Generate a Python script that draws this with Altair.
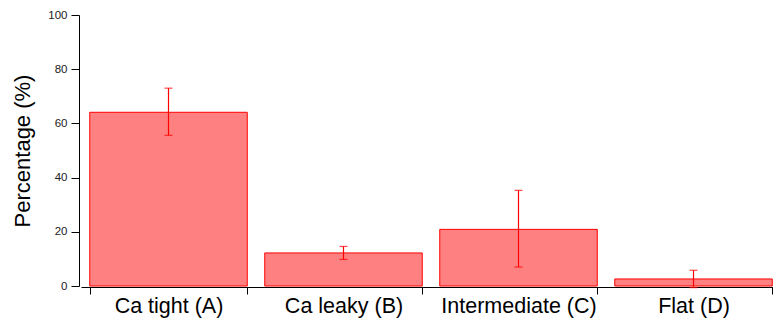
import altair as alt
import pandas as pd

categories = ["Ca tight (A)", "Ca leaky (B)", "Intermediate (C)", "Flat (D)"]
values = [64.1, 12.2, 20.9, 2.6]
err_low = [55.6, 9.8, 7.0, -0.6]
err_high = [73.0, 14.6, 35.3, 5.8]

df = pd.DataFrame({"cat": categories, "val": values, "lo": err_low, "hi": err_high})

FONT = "Liberation Sans"

x = alt.X("cat:N", sort=categories, title=None,
          scale=alt.Scale(range=[2, 702], paddingInner=0.1, paddingOuter=0.05),
          axis=alt.Axis(tickBand="extent", labelAngle=0, labelFontSize=21.5, labelFont=FONT,
                        labelColor="black", domainColor="black", tickColor="black",
                        tickSize=7, labelPadding=1, offset=1, labelLimit=300))
y_scale = alt.Scale(domain=[0, 100], nice=False)

bars = alt.Chart(df).mark_bar(color="#FF8080", stroke="#FF0000", strokeWidth=1).encode(
    x=x,
    y=alt.Y("val:Q", scale=y_scale, title="Percentage (%)",
            axis=alt.Axis(values=[0, 20, 40, 60, 80, 100], grid=False, labelFontSize=11.5,
                          labelFont=FONT, labelColor="#222222", titleFont=FONT, titleFontSize=22,
                          titleFontWeight="normal", titleColor="black", domainColor="black",
                          tickColor="black", tickSize=8, labelPadding=4, titlePadding=13)),
)

rule = alt.Chart(df).mark_rule(color="#FF0000", strokeWidth=1.2).encode(
    x=alt.X("cat:N", sort=categories), y=alt.Y("lo:Q", scale=y_scale), y2="hi:Q")
cap_hi = alt.Chart(df).mark_tick(color="#FF0000", size=8, thickness=1.2).encode(
    x=alt.X("cat:N", sort=categories), y=alt.Y("hi:Q", scale=y_scale))
cap_lo = alt.Chart(df).mark_tick(color="#FF0000", size=8, thickness=1.2).encode(
    x=alt.X("cat:N", sort=categories), y=alt.Y("lo:Q", scale=y_scale))

chart = alt.layer(bars, rule, cap_hi, cap_lo).properties(
    width=694, height=271,
    autosize=alt.AutoSizeParams(type="none"),
    padding={"left": 79, "top": 15, "right": 0, "bottom": 34},
    background="white",
).configure_view(stroke=None)

chart.save("out.html", embed_options={"renderer": "svg", "actions": False})
